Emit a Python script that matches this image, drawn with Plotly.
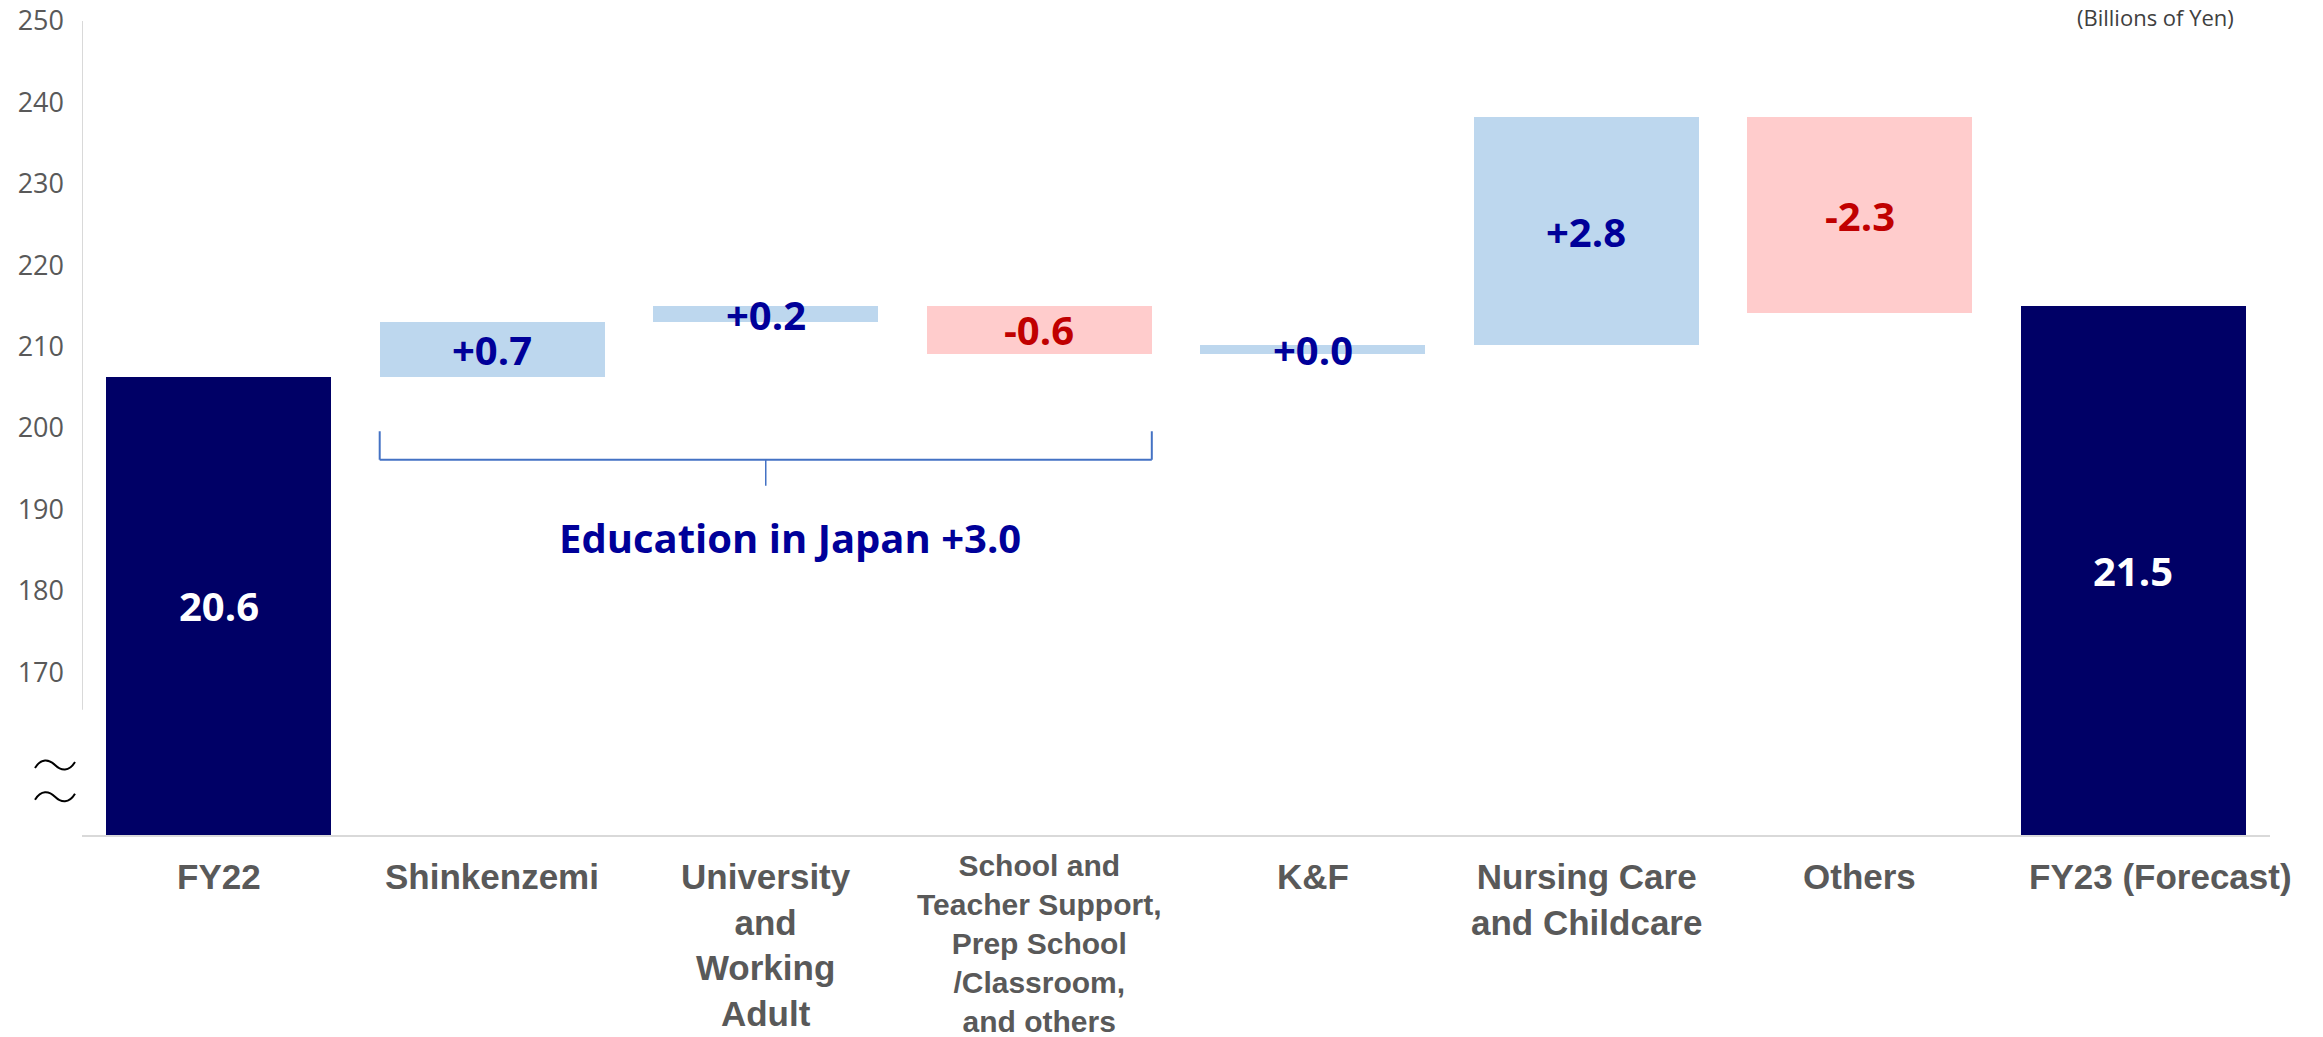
import plotly.graph_objects as go

# ---- data (values in axis units; labels in billions of yen) ----
categories = ["FY22", "Shinkenzemi", "University<br>and<br>Working<br>Adult",
              "School and<br>Teacher Support,<br>Prep School<br>/Classroom,<br>and others",
              "K&F", "Nursing Care<br>and Childcare", "Others", "FY23 (Forecast)"]
start_total = 206.3
deltas = [6.7, 2.0, -5.9, 1.1, 28.0, -24.1]
end_total = 215.0
value_labels = ["20.6", "+0.7", "+0.2", "-0.6", "+0.0", "+2.8", "-2.3", "21.5"]
group_label = "Education in Japan +3.0"
unit_label = "(Billions of Yen)"
y_ticks = [170, 180, 190, 200, 210, 220, 230, 240, 250]

# ---- build waterfall bases ----
Y_FLOOR, Y_TOP = 150, 250
bases, heights, kinds = [0], [start_total], ["total"]
level = start_total
for d in deltas:
    bases.append(level)
    heights.append(d)
    kinds.append("up" if d >= 0 else "down")
    level += d
bases.append(0)
heights.append(end_total)
kinds.append("total")

fill = {"total": "#000066", "up": "#BDD7EE", "down": "#FFCCCC"}
txtc = {"total": "#FFFFFF", "up": "#000099", "down": "#C00000"}
BAR_W = 0.823
xs = list(range(len(categories)))

fig = go.Figure()
fig.add_trace(go.Bar(
    x=xs, y=heights, base=bases, width=BAR_W,
    marker=dict(color=[fill[k] for k in kinds], line=dict(width=0)),
    hoverinfo="skip", showlegend=False,
))

annotations = []
# value labels centered in the visible part of each bar
for i, (b, h, k, t) in enumerate(zip(bases, heights, kinds, value_labels)):
    lo = max(min(b, b + h), Y_FLOOR)
    hi = max(b, b + h)
    annotations.append(dict(x=i, y=(lo + hi) / 2, xref="x", yref="y", text=f"<b>{t}</b>",
                            showarrow=False, font=dict(family="Open Sans", size=40, color=txtc[k])))

# category labels
for i, c in enumerate(categories):
    small = (i == 3)
    annotations.append(dict(x=i, y=0, xref="x", yref="paper", yanchor="top",
                            yshift=-12 if small else -20,
                            xshift=27 if i == len(categories) - 1 else 0,
                            text=f"<b>{c}</b>", showarrow=False, align="center",
                            font=dict(family="Liberation Sans", size=30 if small else 35, color="#595959")))

# group bracket
left = 1 - BAR_W / 2
right = 3 + BAR_W / 2
br_top, br_mid, br_bot = 199.6, 196.1, 192.9
shapes = [
    dict(type="line", xref="x", yref="y", x0=left, x1=left, y0=br_top, y1=br_mid, line=dict(color="#4472C4", width=2)),
    dict(type="line", xref="x", yref="y", x0=right, x1=right, y0=br_top, y1=br_mid, line=dict(color="#4472C4", width=2)),
    dict(type="line", xref="x", yref="y", x0=left, x1=right, y0=br_mid, y1=br_mid, line=dict(color="#4472C4", width=2)),
    dict(type="line", xref="x", yref="y", x0=2, x1=2, y0=br_mid, y1=br_bot, line=dict(color="#4472C4", width=1.5)),
    # broken y axis line
    dict(type="line", xref="x", yref="y", x0=-0.5, x1=-0.5, y0=165.4, y1=Y_TOP, line=dict(color="#D9D9D9", width=2)),
]
# axis break marks (two tildes), drawn in paper space so they are not clipped
for yv in (158.6, 154.7):
    shapes.append(dict(type="path", xref="paper", yref="paper", xsizemode="pixel", ysizemode="pixel",
                       xanchor=0, yanchor=(yv - Y_FLOOR) / (Y_TOP - Y_FLOOR),
                       path="M -47,-3 C -41,7 -33,6 -27,0 C -21,-6 -13,-7 -7,3",
                       line=dict(color="#000000", width=2)))

annotations.append(dict(x=2.09, y=186.5, xref="x", yref="y", text=f"<b>{group_label}</b>", showarrow=False,
                        font=dict(family="Open Sans", size=40, color="#000099")))

annotations.append(dict(x=1, y=1, xref="paper", yref="paper", xanchor="right", yanchor="middle",
                        xshift=-34, yshift=4, text=unit_label, showarrow=False,
                        font=dict(family="Open Sans", size=22, color="#404040")))

fig.update_layout(
    width=2323, height=1037,
    margin=dict(l=82, r=53, t=21, b=202),
    plot_bgcolor="white", paper_bgcolor="white",
    annotations=annotations, shapes=shapes,
    bargap=0,
    xaxis=dict(range=[-0.5, len(categories) - 0.5], showticklabels=False, showgrid=False,
               zeroline=False, showline=True, linecolor="#D9D9D9", linewidth=2, ticks="",
               automargin=False),
    yaxis=dict(range=[Y_FLOOR, Y_TOP], tickvals=y_ticks, showgrid=False, zeroline=False,
               showline=False, ticks="", ticklabelstandoff=17, automargin=False,
               tickfont=dict(family="Open Sans", size=27, color="#595959")),
)

fig.write_html("out.html")
